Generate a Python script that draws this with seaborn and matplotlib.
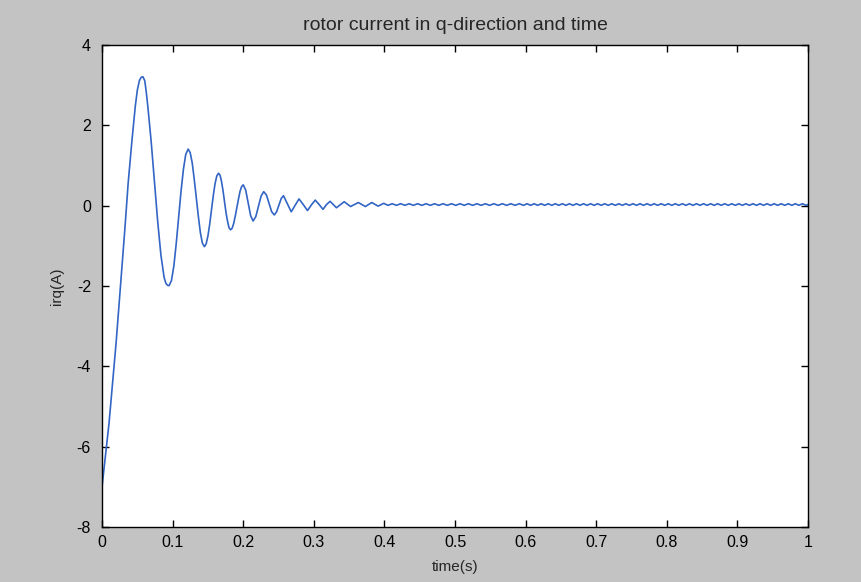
import pandas as pd
import seaborn as sns
import matplotlib.pyplot as plt

# rotor current irq (A) vs time (s)
# transient part: start, rise, then the decaying oscillation
head_t = [0.000, 0.005, 0.010, 0.015, 0.020, 0.025, 0.0326, 0.037, 0.042, 0.047,
          0.050, 0.053, 0.0555, 0.058, 0.0606, 0.0627, 0.0650, 0.0696, 0.0742, 0.0788,
          0.0834, 0.0880, 0.0904, 0.0927, 0.095, 0.0984, 0.1018, 0.1051, 0.1085, 0.1119,
          0.1153, 0.1186, 0.122, 0.1249, 0.1278, 0.1306, 0.1335, 0.1364, 0.1393, 0.1421,
          0.145, 0.1475, 0.150, 0.1525, 0.155, 0.1575, 0.160, 0.1625, 0.165, 0.1672,
          0.1693, 0.1714, 0.1735, 0.1756, 0.1778, 0.1799, 0.182, 0.1843, 0.1865, 0.1888,
          0.191, 0.1933, 0.1955, 0.1978, 0.200, 0.2035, 0.207, 0.2105, 0.214,
          0.2178, 0.2215, 0.2253, 0.229, 0.2328, 0.2365, 0.2403, 0.244, 0.2473, 0.2505,
          0.2538, 0.257, 0.2625, 0.268, 0.2735, 0.279, 0.285, 0.291, 0.2965, 0.302,
          0.3075, 0.313, 0.318, 0.323, 0.332, 0.343, 0.352, 0.363, 0.373, 0.382,
          0.391, 0.399]
head_i = [-7.00, -6.20, -5.40, -4.40, -3.40, -2.26, -0.52, 0.56, 1.55, 2.46,
          2.88, 3.12, 3.20, 3.21, 3.11, 2.82, 2.45, 1.60, 0.61, -0.38,
          -1.23, -1.79, -1.93, -1.98, -1.99, -1.86, -1.49, -0.94, -0.29, 0.36,
          0.91, 1.28, 1.41, 1.32, 1.06, 0.66, 0.20, -0.26, -0.67, -0.93,
          -1.02, -0.95, -0.75, -0.46, -0.11, 0.24, 0.54, 0.74, 0.81, 0.76,
          0.60, 0.37, 0.10, -0.17, -0.39, -0.55, -0.60, -0.56, -0.44, -0.25,
          -0.04, 0.17, 0.36, 0.48, 0.52, 0.39, 0.07, -0.25, -0.38,
          -0.27, -0.015, 0.24, 0.35, 0.27, 0.06, -0.15, -0.23, -0.15, 0.01,
          0.18, 0.25, 0.05, -0.15, 0.01, 0.17, 0.03, -0.12, 0.02, 0.14,
          0.03, -0.09, 0.03, 0.11, -0.05, 0.10, -0.02, 0.08, -0.02, 0.08,
          -0.01, 0.06]

# steady part: small ripple around zero (extrema)
tail_t = [0.405, 0.411, 0.417, 0.423, 0.429, 0.435, 0.441, 0.447, 0.453, 0.459,
          0.465, 0.471, 0.477, 0.483, 0.489, 0.495, 0.501, 0.507, 0.513, 0.519,
          0.525, 0.531, 0.537, 0.543, 0.549, 0.555, 0.561, 0.567, 0.573, 0.579,
          0.585, 0.591, 0.597, 0.602, 0.607, 0.612, 0.617, 0.622, 0.627, 0.632,
          0.637, 0.642, 0.647, 0.652, 0.657, 0.662, 0.667, 0.672, 0.677, 0.682,
          0.687, 0.692, 0.697, 0.702, 0.707, 0.712, 0.717, 0.722, 0.727, 0.732,
          0.737, 0.742, 0.747, 0.752, 0.757, 0.762, 0.767, 0.772, 0.777, 0.782,
          0.787, 0.792, 0.797, 0.802, 0.807, 0.812, 0.817, 0.822, 0.827, 0.832,
          0.837, 0.842, 0.847, 0.852, 0.857, 0.862, 0.867, 0.872, 0.877, 0.882,
          0.887, 0.892, 0.897, 0.902, 0.907, 0.912, 0.917, 0.922, 0.927, 0.932,
          0.937, 0.942, 0.947, 0.952, 0.957, 0.962, 0.967, 0.972, 0.977, 0.982,
          0.987, 0.992, 0.997, 1.000]
tail_i = [0.01, 0.05, 0.01, 0.05, 0.01, 0.05, 0.01, 0.05, 0.01, 0.05,
          0.01, 0.05, 0.01, 0.05, 0.01, 0.05, 0.01, 0.05, 0.01, 0.05,
          0.01, 0.05, 0.01, 0.05, 0.01, 0.05, 0.01, 0.05, 0.01, 0.05,
          0.01, 0.05, 0.01, 0.05, 0.01, 0.05, 0.01, 0.05, 0.01, 0.05,
          0.01, 0.05, 0.01, 0.05, 0.01, 0.05, 0.01, 0.05, 0.01, 0.05,
          0.01, 0.05, 0.01, 0.05, 0.01, 0.05, 0.01, 0.05, 0.01, 0.05,
          0.01, 0.05, 0.01, 0.05, 0.01, 0.05, 0.01, 0.05, 0.01, 0.05,
          0.01, 0.05, 0.01, 0.05, 0.01, 0.05, 0.01, 0.05, 0.01, 0.05,
          0.01, 0.05, 0.01, 0.05, 0.01, 0.05, 0.01, 0.05, 0.01, 0.05,
          0.01, 0.05, 0.01, 0.05, 0.01, 0.05, 0.01, 0.05, 0.01, 0.05,
          0.01, 0.05, 0.01, 0.05, 0.01, 0.05, 0.01, 0.05, 0.01, 0.05,
          0.01, 0.05, 0.01, 0.03]

x_ticks = [0, 0.1, 0.2, 0.3, 0.4, 0.5, 0.6, 0.7, 0.8, 0.9, 1]
x_labels = ['0', '0.1', '0.2', '0.3', '0.4', '0.5', '0.6', '0.7', '0.8', '0.9', '1']
y_ticks = [-8, -6, -4, -2, 0, 2, 4]
y_labels = ['-8', '-6', '-4', '-2', '0', '2', '4']

df = pd.DataFrame({'time': head_t + tail_t, 'irq': head_i + tail_i})

sns.set_style('ticks')
plt.rcParams['font.family'] = ['Liberation Sans', 'DejaVu Sans']

bg = '#c3c3c3'
fig = plt.figure(figsize=(8.61, 5.82), dpi=100, facecolor=bg)
ax = fig.add_axes([0.1185, 0.0945, 0.82, 0.828])
ax.set_facecolor('white')

sns.lineplot(data=df, x='time', y='irq', ax=ax, sort=False, estimator=None,
             color='#3265c4', linewidth=1.2)

ax.set_xlim(0, 1)
ax.set_ylim(-8, 4)
ax.set_xticks(x_ticks)
ax.set_xticklabels(x_labels)
ax.set_yticks(y_ticks)
ax.set_yticklabels(y_labels)
ax.tick_params(direction='in', top=True, right=True, length=5, width=1,
               colors='black', labelsize=11.5)
ax.tick_params(axis='x', pad=6)
ax.tick_params(axis='y', pad=8)
for s in ax.spines.values():
    s.set_color('black')
    s.set_linewidth(1)

ax.set_title('rotor current in q-direction and time', fontsize=14, pad=11)
ax.set_xlabel('time(s)', fontsize=11, labelpad=7)
ax.set_ylabel('irq(A)', fontsize=11, labelpad=9)

fig.savefig('out.png', dpi=100, facecolor=bg)
